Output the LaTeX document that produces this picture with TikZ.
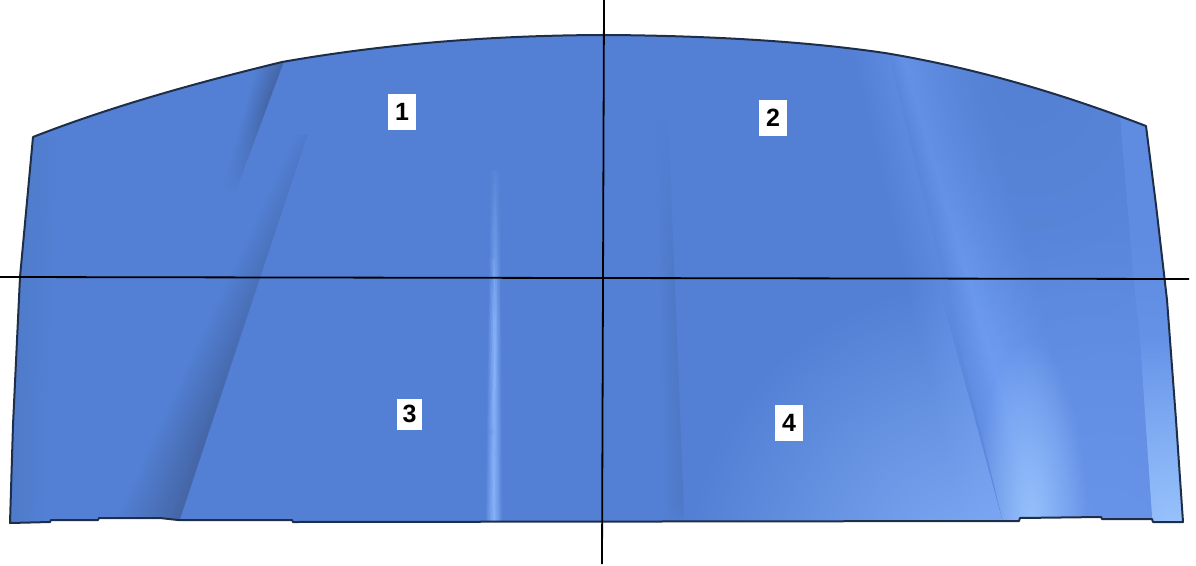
\documentclass[tikz,border=0pt]{standalone}
\usepackage{fontspec}
\setmainfont{Liberation Sans}
\usetikzlibrary{calc,fadings}
\definecolor{panelbase}{HTML}{5380D4}
\definecolor{paneldark}{HTML}{4567A8}
\definecolor{panelsoft}{HTML}{4E79C6}
\definecolor{panelmid}{HTML}{5C89DE}
\definecolor{panellow}{HTML}{6C98EE}
\definecolor{panelhigh}{HTML}{6F9DF2}
\definecolor{panellight}{HTML}{8DB8FF}
\definecolor{panelglow}{HTML}{A6CFFF}
\definecolor{paneledge}{HTML}{1E2E48}
\tikzfading[name=glowfade, inner color=transparent!25, outer color=transparent!100]
\tikzset{
  numbox/.style={fill=white, inner sep=0pt, minimum width=28pt, minimum height=36pt,
    font=\fontsize{25}{25}\selectfont\bfseries},
  axisline/.style={black, line width=1.8pt},
  outline/.style={paneledge, line width=2pt, line join=round}
}
% soft band: colour runs from edge (#1)-(#2) over to edge (#3)-(#4)
\newcommand{\softband}[6]{
  \foreach \i in {0,...,23}{
    \pgfmathsetmacro{\ta}{\i/24}
    \pgfmathsetmacro{\tb}{(\i+1.4)/24}
    \pgfmathtruncatemacro{\pc}{100*\i/23}
    \fill[#6!\pc!#5] ($(#1)!\ta!(#3)$) -- ($(#1)!\tb!(#3)$) -- ($(#2)!\tb!(#4)$) -- ($(#2)!\ta!(#4)$) -- cycle;
  }
}
\newcommand{\panelpath}{(33,137) .. controls (115,105) and (200,82) .. (282,62)
  .. controls (390,43) and (500,35) .. (610,35) .. controls (720,36) and (810,42) .. (885,53)
  .. controls (975,68) and (1060,93) .. (1146,126) -- (1156,205) -- (1167,300) -- (1176,420) -- (1183,522)
  -- (1153,522) -- (1152,519) -- (1102,519) -- (1101,517) -- (1020,518) -- (1019,521)
  -- (293,522) -- (292,520) -- (178,520) -- (160,518) -- (99,518) -- (98,520) -- (51,520) -- (50,522)
  -- (10,523) -- (13,425) -- (20,277) -- cycle}
\begin{document}
\begin{tikzpicture}[x=1pt,y=-1pt]
\useasboundingbox (0,0) rectangle (1196,565);
\begin{scope}
\clip \panelpath;
\fill[panelbase] (0,0) rectangle (1196,565);
% left edge
\softband{0,137}{0,523}{62,137}{45,523}{panelsoft}{panelbase}
% short dark streak under the top edge
\softband{258,60}{222,190}{284,60}{236,190}{panelbase}{paneldark}
\fill[panelbase, path fading=north] (205,105) rectangle (296,195);
% main crease on the left, with the upper part washed out
\softband{296,135}{112,522}{307,135}{178,522}{panelbase}{paneldark}
\fill[panelbase, path fading=south] (290,60) -- (360,60) -- (320,97) -- (206,440) -- (100,440) -- (290,110) -- cycle;
% light streak left of centre
\softband{490,170}{485,522}{495,170}{494,522}{panelbase}{panellight}
\softband{495,170}{494,522}{501,170}{503,522}{panellight}{panelbase}
\fill[panelbase, path fading=south] (475,150) rectangle (510,320);
% dark streak right of centre
\softband{655,120}{664,522}{668,120}{684,522}{panelbase}{panelsoft}
\fill[panelbase, path fading=south] (650,110) rectangle (690,300);
\fill[panelbase, path fading=north] (660,524) rectangle (690,505);
% light area up to the crease on the right
\softband{850,50}{960,522}{885,50}{1003,522}{panelbase}{panelmid}
\begin{scope}
\clip (690,200) -- (915,200) -- (1005,530) -- (690,530) -- cycle;
\fill[panellight, path fading=glowfade] (975,570) circle (290pt);
\end{scope}
% ridge right of the crease
\softband{885,50}{1003,522}{900,50}{1040,522}{panelmid}{panelhigh}
\softband{900,50}{1040,522}{975,50}{1100,522}{panelhigh}{panelmid}
\softband{975,50}{1100,522}{1130,50}{1160,522}{panelmid}{panelmid}
\begin{scope}
\clip (885,40) -- (1196,40) -- (1196,530) -- (1005,530) -- cycle;
\fill[panelbase!70!panelsoft, path fading=glowfade] (1030,85) ellipse (250pt and 280pt);
\fill[panellow, path fading=glowfade] (1105,540) circle (320pt);
\fill[panelglow, path fading=glowfade] (1030,525) ellipse (58pt and 185pt);
\end{scope}
% right edge, lighter down to the corner
\begin{scope}
\clip (1120,115) -- (1133,273) -- (1140,340) -- (1153,530) -- (1196,530) -- (1196,115) -- cycle;
\fill[panelmid!85!panelhigh] (1110,110) rectangle (1196,530);
\fill[panelhigh, path fading=north] (1110,230) rectangle (1196,530);
\fill[panelglow, path fading=glowfade] (1175,525) circle (190pt);
\end{scope}
\end{scope}
\draw[outline] \panelpath;
\coordinate (westend) at (0,277);
\coordinate (eastend) at (1189,279);
\coordinate (northend) at (604,0);
\coordinate (southend) at (602,564);
\draw[axisline] (westend) -- (eastend);
\draw[axisline] (northend) -- (southend);
\node[numbox] (partone) at (402,112) {1};
\node[numbox] (parttwo) at (773,118) {2};
\node[numbox, minimum width=25pt, minimum height=31pt] (partthree) at (409.5,414) {3};
\node[numbox] (partfour) at (789,423) {4};
\end{tikzpicture}
\end{document}
